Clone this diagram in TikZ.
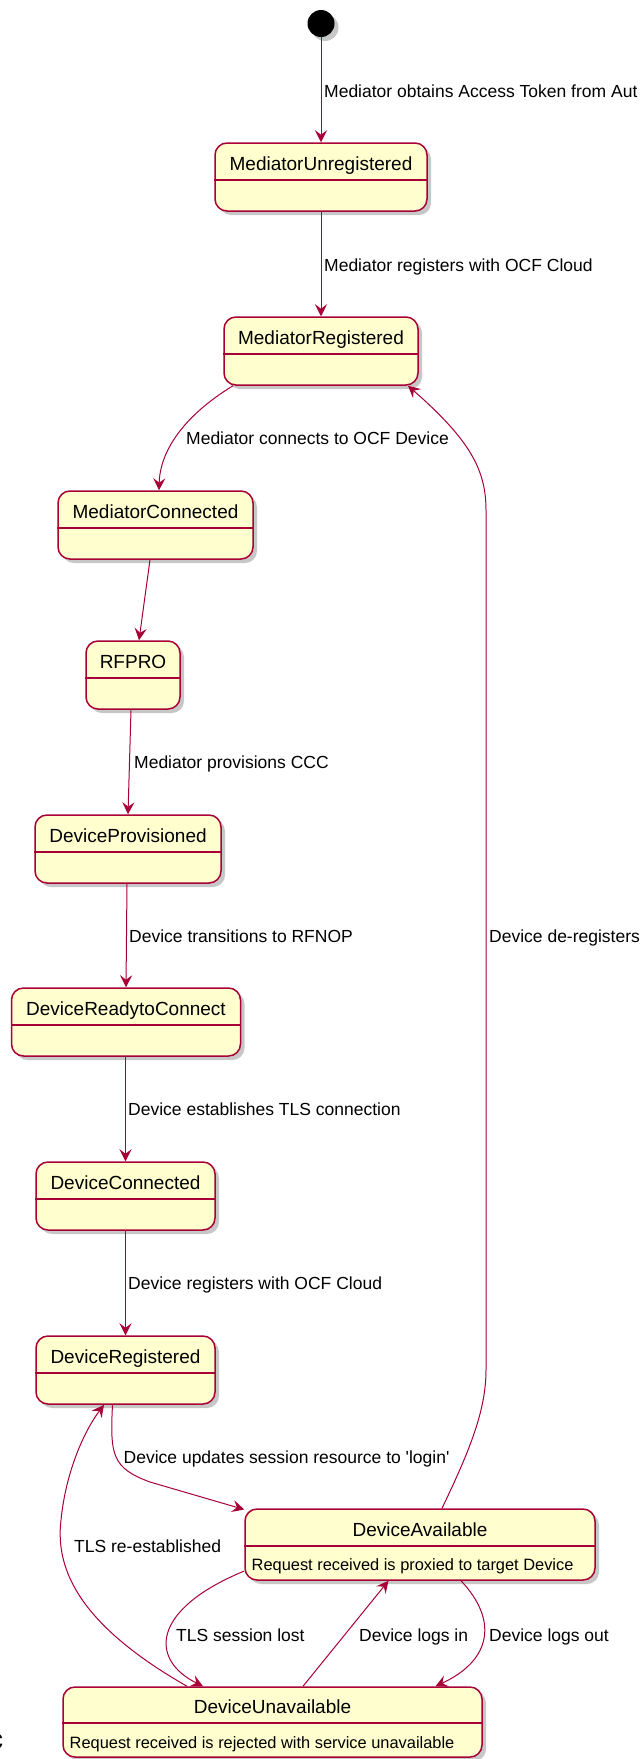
\documentclass[tikz,border=0pt]{standalone}
\usepackage{fontspec}
\setmainfont{Liberation Sans}[Ligatures=TeXOff]
\usetikzlibrary{arrows.meta,shadows,calc}
\definecolor{pborder}{HTML}{A80036}
\definecolor{pfill}{HTML}{FEFECE}
\begin{document}
\begin{tikzpicture}[x=1pt,y=-1pt,
  shad/.style={drop shadow={shadow xshift=4pt,shadow yshift=-4pt,opacity=0.22,fill=black}},
  stbox/.style={draw=pborder,fill=pfill,line width=1.5pt,rounded corners=12pt,inner sep=0pt,shad},
  sname/.style={font=\fontsize{19}{22}\selectfont,inner sep=0pt,anchor=base},
  sbody/.style={font=\fontsize{16.4}{19}\selectfont,inner sep=0pt,anchor=base west},
  elab/.style={font=\fontsize{17.5}{20}\selectfont,inner sep=0pt,anchor=base west},
  arr/.style={draw=pborder,line width=1pt,-{Stealth[length=12pt,width=12pt,inset=4.5pt]}},
  sepl/.style={draw=pborder,line width=1.5pt}]
\useasboundingbox[fill=white] (0,0) rectangle (642,1759);

% start
\node[circle,fill=black,minimum size=27pt,inner sep=0pt,shad] (start) at (321,23.5) {};

% states
\node[stbox,minimum width=212pt,minimum height=68pt] (MU) at (321,177) {};
\draw[sepl] (MU.west |- 0,180) -- (MU.east |- 0,180);
\node[sname] (MUn) at (321,170) {MediatorUnregistered};

\node[stbox,minimum width=194pt,minimum height=68pt] (MR) at (321,351) {};
\draw[sepl] (MR.west |- 0,354) -- (MR.east |- 0,354);
\node[sname] (MRn) at (321,344) {MediatorRegistered};

\node[stbox,minimum width=195pt,minimum height=68pt] (MC) at (155.5,525) {};
\draw[sepl] (MC.west |- 0,528) -- (MC.east |- 0,528);
\node[sname] (MCn) at (155.5,518) {MediatorConnected};

\node[stbox,minimum width=94pt,minimum height=68pt] (RF) at (133,675) {};
\draw[sepl] (RF.west |- 0,678) -- (RF.east |- 0,678);
\node[sname] (RFn) at (133,668) {RFPRO};

\node[stbox,minimum width=186pt,minimum height=68pt] (DP) at (128,849) {};
\draw[sepl] (DP.west |- 0,852) -- (DP.east |- 0,852);
\node[sname] (DPn) at (128,842) {DeviceProvisioned};

\node[stbox,minimum width=229pt,minimum height=68pt] (DRC) at (126,1022) {};
\draw[sepl] (DRC.west |- 0,1025) -- (DRC.east |- 0,1025);
\node[sname] (DRCn) at (126,1015) {DeviceReadytoConnect};

\node[stbox,minimum width=179pt,minimum height=68pt] (DC) at (125.5,1196) {};
\draw[sepl] (DC.west |- 0,1199) -- (DC.east |- 0,1199);
\node[sname] (DCn) at (125.5,1189) {DeviceConnected};

\node[stbox,minimum width=179pt,minimum height=68pt] (DR) at (125.5,1370) {};
\draw[sepl] (DR.west |- 0,1373) -- (DR.east |- 0,1373);
\node[sname] (DRn) at (125.5,1363) {DeviceRegistered};

\node[stbox,minimum width=350pt,minimum height=71pt] (DA) at (420,1544.5) {};
\draw[sepl] (DA.west |- 0,1546) -- (DA.east |- 0,1546);
\node[sname] (DAn) at (420,1536) {DeviceAvailable};
\node[sbody] (DAb) at (251.5,1570) {Request received is proxied to target Device};

\node[stbox,minimum width=419pt,minimum height=70pt] (DU) at (272.5,1722) {};
\draw[sepl] (DU.west |- 0,1723) -- (DU.east |- 0,1723);
\node[sname] (DUn) at (272.5,1713) {DeviceUnavailable};
\node[sbody] (DUb) at (69.5,1748) {Request received is rejected with service unavailable};

% stray clipped glyph at left edge
\node[anchor=base east,inner sep=0pt,font=\bfseries\fontsize{30}{30}\selectfont] (cut) at (3.5,1749) {c};

% connectors
\draw[arr] (start.south) -- (MU.north);
\node[elab] (l1) at (324,97) {Mediator obtains Access Token from Aut};

\draw[arr] (MU.south) -- (MR.north);
\node[elab] (l2) at (324,271) {Mediator registers with OCF Cloud};

\draw[arr] (233,0 |- MR.south) .. controls (185,415) and (160,450) .. (159,0 |- MC.north);
\node[elab] (l3) at (186,444) {Mediator connects to OCF Device};

\draw[arr] (150,0 |- MC.south) -- (139,0 |- RF.north);

\draw[arr] (131,0 |- RF.south) -- (128,0 |- DP.north);
\node[elab] (l4) at (134,768) {Mediator provisions CCC};

\draw[arr] (127,0 |- DP.south) -- (126,0 |- DRC.north);
\node[elab] (l5) at (129,942) {Device transitions to RFNOP};

\draw[arr] (125.5,0 |- DRC.south) -- (DC.north);
\node[elab] (l6) at (128,1115.5) {Device establishes TLS connection};

\draw[arr] (DC.south) -- (DR.north);
\node[elab] (l7) at (128,1289) {Device registers with OCF Cloud};

\draw[arr] (112.5,0 |- DR.south) .. controls (110,1455) and (112,1468) .. (150,1482) -- (DA.west |- 0,1509.5);
\node[elab] (l8) at (123.5,1463) {Device updates session resource to 'login'};

\draw[arr] (442,0 |- DA.north) .. controls (470,1450) and (486,1410) .. (486,1370)
  -- (486,510) .. controls (486,470) and (470,440) .. (408,0 |- MR.south);
\node[elab] (l9) at (489,942) {Device de-registers};

\draw[arr] (187,0 |- DU.north) .. controls (80,1625) and (55,1570) .. (61,1520)
  .. controls (66,1470) and (85,1430) .. (104,0 |- DR.south);
\node[elab] (l10) at (74,1552) {TLS re-established};

\draw[arr] (DA.west |- 0,1571) .. controls (150,1610) and (150,1660) .. (203,0 |- DU.north);
\node[elab] (l11) at (176,1641) {TLS session lost};

\draw[arr] (303,0 |- DU.north) -- (388.5,0 |- DA.south);
\node[elab] (l12) at (359,1641) {Device logs in};

\draw[arr] (461,0 |- DA.south) .. controls (498,1620) and (492,1660) .. (435.5,0 |- DU.north);
\node[elab] (l13) at (489,1641) {Device logs out};
\end{tikzpicture}
\end{document}
